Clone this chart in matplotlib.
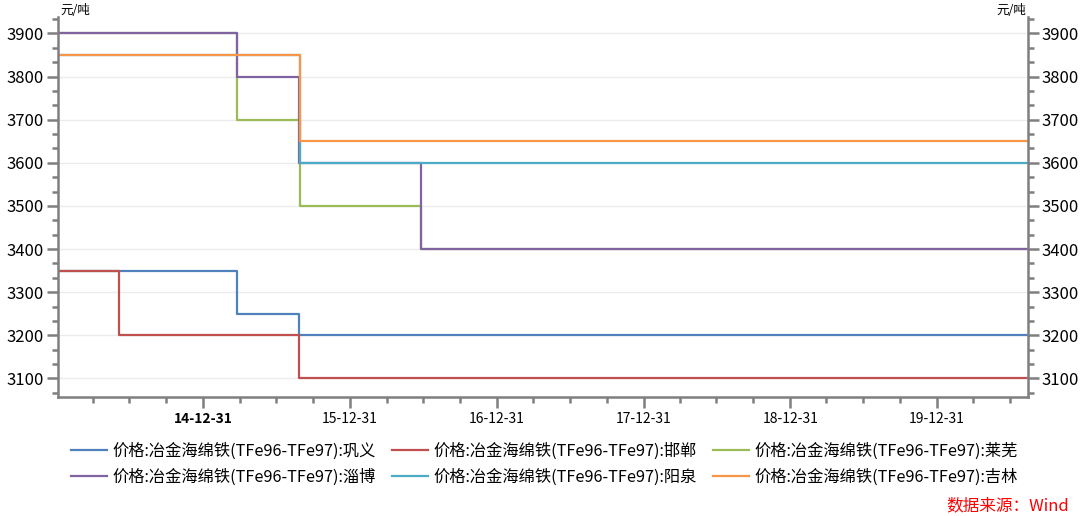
import matplotlib
matplotlib.use("Agg")
import matplotlib.pyplot as plt
import matplotlib.dates as mdates
import matplotlib.ticker as mticker
import pandas as pd

plt.rcParams['font.family'] = ['Noto Sans CJK SC', 'DejaVu Sans']

# step prices (元/吨), each value holds until the next date
gongyi_dates = ['2014-01-03', '2015-03-25', '2015-08-27', '2020-08-14']
gongyi = [3350, 3250, 3200, 3200]
handan_dates = ['2014-01-03', '2014-06-03', '2015-08-27', '2020-08-14']
handan = [3350, 3200, 3100, 3100]
laiwu_dates = ['2014-01-03', '2015-03-25', '2015-08-28', '2016-06-24', '2020-08-14']
laiwu = [3900, 3700, 3500, 3400, 3400]
zibo_dates = ['2014-01-03', '2015-03-25', '2015-08-27', '2016-06-24', '2020-08-14']
zibo = [3900, 3800, 3600, 3400, 3400]
yangquan_dates = ['2014-01-03', '2015-08-29', '2020-08-14']
yangquan = [3850, 3600, 3600]
jilin_dates = ['2014-01-03', '2015-08-29', '2020-08-14']
jilin = [3850, 3650, 3650]

prefix = '价格:冶金海绵铁(TFe96-TFe97):'
series = [
    ('巩义', gongyi_dates, gongyi, '#4f81bd'),
    ('邯郸', handan_dates, handan, '#c0504d'),
    ('莱芜', laiwu_dates, laiwu, '#9bbb59'),
    ('淄博', zibo_dates, zibo, '#8064a2'),
    ('阳泉', yangquan_dates, yangquan, '#4bacc6'),
    ('吉林', jilin_dates, jilin, '#f79646'),
]
year_ticks = ['2014-12-31', '2015-12-31', '2016-12-31', '2017-12-31', '2018-12-31', '2019-12-31']

fig = plt.figure(figsize=(10.82, 5.16), dpi=100)
ax = fig.add_axes([58 / 1082, 1 - 397 / 516, 970 / 1082, 380 / 516])

lines = []
for name, d, v, c in series:
    ln, = ax.plot(pd.to_datetime(d), v, drawstyle='steps-post', color=c, lw=1.6,
                  label=prefix + name)
    lines.append(ln)

ax.set_xlim(pd.Timestamp('2014-01-03'), pd.Timestamp('2020-08-14'))
ax.set_ylim(3057, 3938)

spine_c = '#7f7f7f'
for s in ['left', 'right', 'bottom']:
    ax.spines[s].set_color(spine_c)
    ax.spines[s].set_linewidth(1.8)
ax.spines['top'].set_visible(False)

ax.yaxis.set_major_locator(mticker.MultipleLocator(100))
ax.yaxis.set_minor_locator(mticker.MultipleLocator(100 / 3))
ax.xaxis.set_major_locator(mticker.FixedLocator(mdates.date2num(pd.to_datetime(year_ticks))))
ax.xaxis.set_major_formatter(mdates.DateFormatter('%y-%m-%d'))
quarters = pd.date_range('2014-03-31', '2020-06-30', freq='QE')
ax.xaxis.set_minor_locator(mticker.FixedLocator(mdates.date2num(quarters)))

ax.tick_params(axis='y', which='both', left=True, right=True, labelleft=True,
               labelright=True, direction='out', color=spine_c, width=1.8)
ax.tick_params(axis='y', which='major', length=8, labelsize=12, pad=2)
ax.tick_params(axis='y', which='minor', length=4)
ax.tick_params(axis='x', which='both', direction='out', color=spine_c, width=1.8)
ax.tick_params(axis='x', which='major', length=8, labelsize=10, pad=3)
ax.tick_params(axis='x', which='minor', length=4)
ax.get_xticklabels()[0].set_fontweight('bold')

ax.grid(axis='y', color='#ececec', lw=1)
ax.set_axisbelow(True)

ax.text(0.002, 1.0, '元/吨', transform=ax.transAxes, fontsize=9, ha='left', va='bottom')
ax.text(0.998, 1.0, '元/吨', transform=ax.transAxes, fontsize=9, ha='right', va='bottom')

# legend filled row by row: 巩义 邯郸 莱芜 / 淄博 阳泉 吉林
order = [0, 3, 1, 4, 2, 5]
fig.legend([lines[i] for i in order], [lines[i].get_label() for i in order],
           loc='lower center', bbox_to_anchor=(0.503, 0.031), ncol=3, frameon=False,
           fontsize=11.7, handlelength=2.2, columnspacing=1.0, handletextpad=0.35,
           labelspacing=0.5)

fig.text(0.988, 0.004, '数据来源：Wind', color='#ff0000', fontsize=12, style='italic',
         ha='right', va='bottom')

fig.savefig('out.png', dpi=100)
